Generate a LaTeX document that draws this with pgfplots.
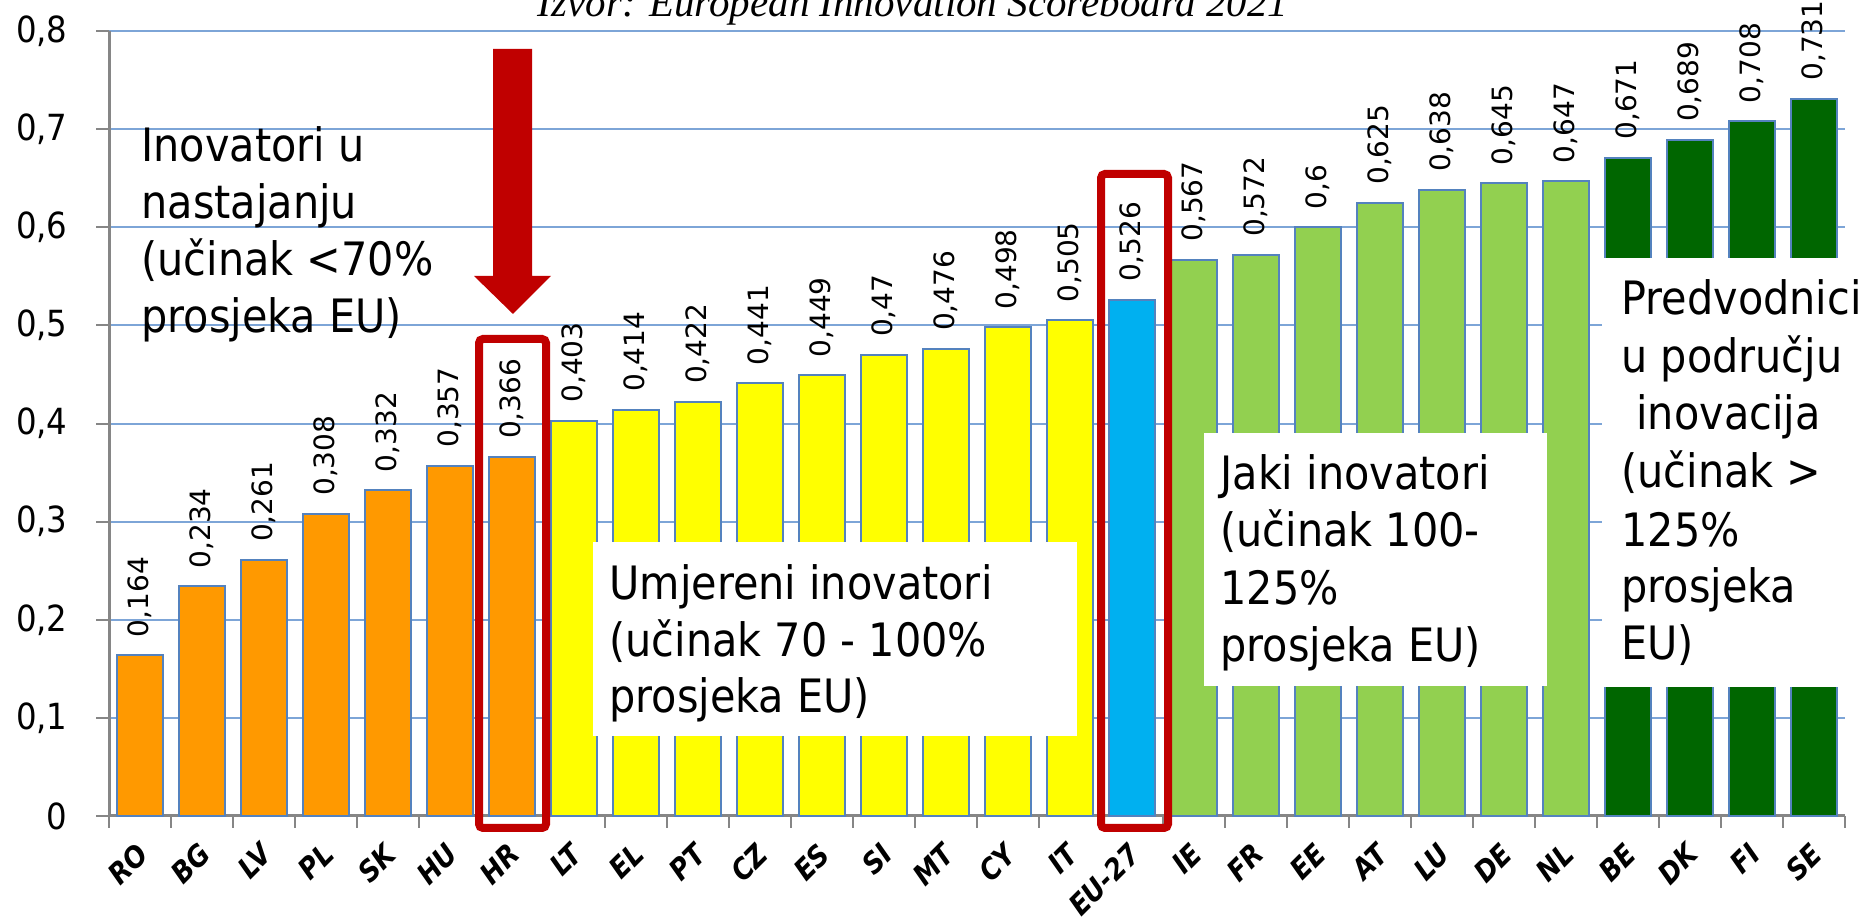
\documentclass[border=0pt]{standalone}
\usepackage{pgfplots}
\usepackage{pgfplotstable}
\pgfplotsset{compat=1.18}
\usepackage{fontspec}
\setmainfont{DejaVu Sans}[FakeStretch=0.9]
\newfontfamily\valfont{DejaVu Sans}
\newfontfamily\titlefont{Liberation Serif}
\definecolor{cOrange}{RGB}{255,153,0}
\definecolor{cYellow}{RGB}{255,255,0}
\definecolor{cBlue}{RGB}{0,176,240}
\definecolor{cLGreen}{RGB}{146,208,80}
\definecolor{cDGreen}{RGB}{0,102,0}
\definecolor{cEdge}{RGB}{84,130,190}
\definecolor{cGrid}{RGB}{125,165,215}
\definecolor{cAxis}{RGB}{134,134,134}
\definecolor{cRed}{RGB}{192,0,0}
\newcommand\ann{\fontsize{23pt}{28.75pt}\selectfont}

\pgfplotstableread{
x y
0 0.164
1 0.234
2 0.261
3 0.308
4 0.332
5 0.357
6 0.366
}\orangedata
\pgfplotstableread{
x y
7 0.403
8 0.414
9 0.422
10 0.441
11 0.449
12 0.47
13 0.476
14 0.498
15 0.505
}\yellowdata
\pgfplotstableread{
x y
16 0.526
}\bluedata
\pgfplotstableread{
x y
17 0.567
18 0.572
19 0.6
20 0.625
21 0.638
22 0.645
23 0.647
}\lgreendata
\pgfplotstableread{
x y
24 0.671
25 0.689
26 0.708
27 0.731
}\dgreendata

\begin{document}
\begin{tikzpicture}
\begin{axis}[
  at={(54.5pt,52pt)}, anchor=south west, scale only axis,
  width=868pt, height=392.5pt,
  xmin=-0.5, xmax=27.5, ymin=0, ymax=0.8,
  clip=false,
  axis x line=bottom, axis y line=left,
  axis line style={-, draw=cAxis, line width=1.5pt},
  xtick={0,1,...,27},
  xticklabels={RO,BG,LV,PL,SK,HU,HR,LT,EL,PT,CZ,ES,SI,MT,CY,IT,EU-27,IE,FR,EE,AT,LU,DE,NL,BE,DK,FI,SE},
  minor xtick={-0.5,0.5,...,27.5},
  ytick={0,0.1,0.2,0.3,0.4,0.5,0.6,0.7,0.8},
  scaled y ticks=false,
  ymajorgrids, grid style={draw=cGrid, line width=1pt},
  tick align=outside, major tick length=6.5pt, minor tick length=6pt,
  major x tick style={draw=none},
  minor x tick style={draw=cAxis, line width=1pt},
  major y tick style={draw=cAxis, line width=1pt},
  yticklabel style={font=\fontsize{18pt}{20pt}\selectfont, anchor=east, inner sep=0pt, xshift=-14pt},
  xticklabel style={font=\bfseries\itshape\fontsize{14.5pt}{16pt}\selectfont, xshift=-2.5pt, yshift=-6pt, rotate=45, anchor=north east, inner sep=0pt},
  /pgf/number format/use comma,
  /pgf/number format/assume math mode=true,
  nodes near coords={\valfont\fontsize{14pt}{16pt}\selectfont\pgfmathprintnumber[fixed,precision=3,use comma,assume math mode=true]{\pgfplotspointmeta}},
  every node near coord/.append style={black, rotate=90, anchor=west, inner xsep=8.5pt, inner ysep=0pt},
]
\addplot[ybar, bar width=23pt, bar shift=0pt, fill=cOrange, draw=cEdge, line width=1pt] table {\orangedata};
\addplot[ybar, bar width=23pt, bar shift=0pt, fill=cYellow, draw=cEdge, line width=1pt] table {\yellowdata};
\addplot[ybar, bar width=23pt, bar shift=0pt, fill=cBlue, draw=cEdge, line width=1pt] table {\bluedata};
\addplot[ybar, bar width=23pt, bar shift=0pt, fill=cLGreen, draw=cEdge, line width=1pt] table {\lgreendata};
\addplot[ybar, bar width=23pt, bar shift=0pt, fill=cDGreen, draw=cEdge, line width=1pt] table {\dgreendata};
\end{axis}

\begin{scope}[shift={(0,460pt)}, x=0.5pt, y=-0.5pt]
  % title
  \node[anchor=base, inner sep=0pt, font=\titlefont\itshape\fontsize{20.5pt}{24pt}\selectfont] at (913,17) {Izvor: European Innovation Scoreboard 2021};
  % white boxes
  \fill[white] (593,542) rectangle (1077,736);
  \fill[white] (1204,433) rectangle (1547,686);
  \fill[white] (1602,258) rectangle (1880,687);
  % red arrow
  \fill[cRed] (493,49) -- (532,49) -- (532,276) -- (551,276) -- (513,314) -- (474,276) -- (493,276) -- cycle;
  % red frames
  \draw[cRed, line width=4pt, rounded corners=2pt] (479,339) rectangle (546,828);
  \draw[cRed, line width=4pt, rounded corners=2pt] (1101,174) rectangle (1168,828);
  % annotations
  \begin{scope}[every node/.style={anchor=base west, inner sep=0pt, font=\ann}]
    \node at (141,162) {Inovatori u};
    \node at (141,219) {nastajanju};
    \node at (141,276) {(učinak <70\%};
    \node at (141,333) {prosjeka EU)};
    \node at (609,600) {Umjereni inovatori};
    \node at (609,657) {(učinak 70 - 100\%};
    \node at (609,713) {prosjeka EU)};
    \node at (1220,490) {Jaki inovatori};
    \node at (1220,547) {(učinak 100-};
    \node at (1220,605) {125\%};
    \node at (1220,662) {prosjeka EU)};
    \node at (1621,315) {Predvodnici};
    \node at (1621,373) {u području};
    \node at (1636,430) {inovacija};
    \node at (1621,488) {(učinak >};
    \node at (1621,547) {125\%};
    \node at (1621,603) {prosjeka};
    \node at (1621,660) {EU)};
  \end{scope}
\end{scope}
\pgfresetboundingbox
\useasboundingbox (0,0) rectangle (934pt,460pt);
\end{tikzpicture}
\end{document}
